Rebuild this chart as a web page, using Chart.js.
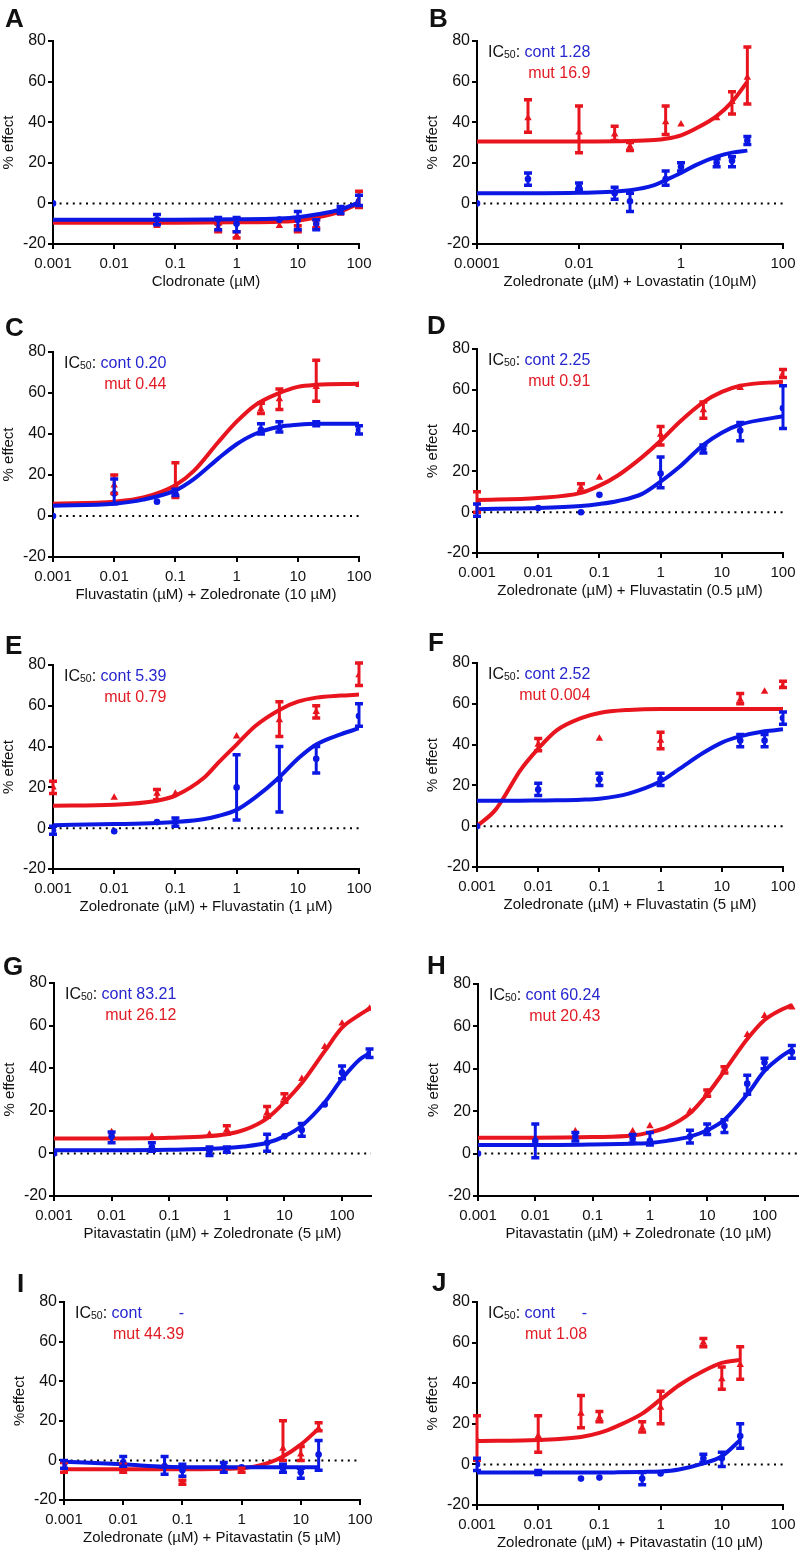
<!DOCTYPE html>
<html>
<head>
<meta charset="utf-8">
<script src="https://cdn.jsdelivr.net/npm/chart.js@4.4.1/dist/chart.umd.min.js"></script>
<style>
  body { margin:0; width:799px; height:1552px; position:relative; overflow:hidden; background:#fff;
         font-family:"Liberation Sans", Arial, sans-serif; color:#111; }
  canvas { position:absolute; }
  .letter { position:absolute; font-weight:bold; font-size:26px; line-height:26px; color:#111; }
  .ic { position:absolute; font-size:16px; line-height:19px; text-align:right; white-space:nowrap; }
  .ic sub { font-size:10.5px; vertical-align:baseline; position:relative; top:1px; }
  .cb { color:#2626cf; }
  .cr { color:#e11b24; }
</style>
</head>
<body>
<script>
// ---- data ----
const TICKS_STD = [0.001, 0.01, 0.1, 1, 10, 100]
const TICKS_B = [0.0001, 0.01, 1, 100]
const Y_TICKS = [-20, 0, 20, 40, 60, 80]

// A
const A_dose = [0.001, 0.05, 0.5, 1, 5, 10, 20, 50, 100]
const A_cont = [0, -8, -10, -10, -8, -8, -10, -3, 1]
const A_contBar = [null, [-10.5, -5.5], [-13, -7], [-14, -7], null, [-13, -4], [-13, -8], [-5, -1.5], [-1, 4]]
const A_mut = [null, -11, -12, -16, -11, -12, -11, -5, 2]
const A_mutBar = [null, null, [-14, -10], [-17, -14], null, [-14, -11], [-12, -8], null, [-2, 6]]
const A_fitDose = [0.001, 0.01, 0.1, 1, 5, 10, 20, 50, 100]
const A_fitCont = [-8, -8, -8, -7.8, -7.4, -6.8, -5.5, -3, 0.5]
const A_fitMut = [-9.5, -9.5, -9.5, -9.3, -9, -8.5, -7, -4, 0]

// B
const B_dose = [0.0001, 0.001, 0.01, 0.05, 0.1, 0.5, 1, 5, 10, 20]
const B_cont = [0, 12, 8, 5, 1, 12, 18, 20, 21, 31]
const B_contBar = [null, [9, 15], [7, 10], [2, 8], [-4, 5], [9, 16], [16, 20], [18, 22], [18, 23], [29, 33]]
const B_mut = [null, 42, 35, 34, 28, 40, 39, 42, 50, 62]
const B_mutBar = [null, [35, 51], [25, 48], [31, 38], [26, 30], [34, 48], null, null, [44, 55], [49, 77]]
const B_fitDose = [0.0001, 0.001, 0.01, 0.1, 0.3, 0.5, 1, 2, 5, 10, 20]
const B_fitCont = [5, 5, 5.2, 6.5, 9, 11.5, 15, 19, 23, 25, 26]
const B_fitMut = [30.5, 30.5, 30.5, 30.7, 31.2, 31.8, 33.5, 37, 43, 50, 60]

// C
const C_dose = [0.001, 0.01, 0.05, 0.1, 2.5, 5, 20, 100]
const C_cont = [0, 11, 7, 11, 42, 43, 45, 42]
const C_contBar = [null, [6, 18], null, [10, 13], [40, 45], [41, 46], [44, 46], [40, 44]]
const C_mut = [null, 15, null, 15, 52, 57, 63, 64]
const C_mutBar = [null, [11, 20], null, [9, 26], [50, 55], [52, 62], [56, 76], null]
const C_fitDose = [0.001, 0.01, 0.03, 0.1, 0.2, 0.5, 1, 2, 5, 10, 20, 100]
const C_fitCont = [5, 6, 8, 12.5, 18, 28, 35, 40, 43.5, 44.5, 45, 45]
const C_fitMut = [6, 7, 9, 15, 22, 36, 46, 54, 60, 63, 64, 64.5]

// D
const D_dose = [0.001, 0.01, 0.05, 0.1, 1, 5, 20, 100]
const D_cont = [1, 2, 0, 8.5, 19, 31, 40, 51]
const D_contBar = [[-2, 4], null, null, null, [12, 27], [29, 33], [35, 44], [41, 62]]
const D_mut = [5, null, 12, 17, 38, 50, 61, 68]
const D_mutBar = [[0, 10], null, [10, 14], null, [33, 42], [46, 54], null, [66, 70]]
const D_fitDose = [0.001, 0.01, 0.05, 0.1, 0.2, 0.5, 1, 2, 5, 10, 20, 100]
const D_fitCont = [1.5, 2, 3, 4, 5.5, 9, 15, 22, 33, 39, 43, 47]
const D_fitMut = [6, 7, 9.5, 13, 18, 27, 35, 44, 54, 59, 62, 64]

// E
const E_dose = [0.001, 0.01, 0.05, 0.1, 1, 5, 20, 100]
const E_cont = [-1, -1.5, 3, 3, 20, 24, 34, 55]
const E_contBar = [[-3, 1], null, null, [1, 5], [4, 36], [8, 40], [27, 40], [50, 61]]
const E_mut = [20, 15, 17, 17, 45, 53, 57, 75]
const E_mutBar = [[17, 23], null, [14, 19], null, null, [45, 62], [54, 60], [70, 81]]
const E_fitDose = [0.001, 0.01, 0.05, 0.1, 0.3, 0.5, 1, 2, 5, 10, 20, 50, 100]
const E_fitCont = [1.5, 2, 2.5, 3, 4.5, 6, 9, 15, 25, 34, 41, 46, 49]
const E_fitMut = [11, 11.5, 13.5, 16, 25, 32, 41, 50, 58, 62, 64, 65, 65.5]

// F
const F_dose = [0.001, 0.01, 0.1, 1, 20, 50, 100]
const F_cont = [0, 18, 23, 23, 42, 42, 53]
const F_contBar = [null, [15, 21], [20, 26], [20, 26], [39, 45], [39, 45], [50, 56]]
const F_mut = [0, 40, 43, 42, 62, 66, 69]
const F_mutBar = [null, [37, 43], null, [38, 46], [60, 65], null, [68, 71]]
const F_fitDose = [0.001, 0.002, 0.003, 0.005, 0.01, 0.02, 0.05, 0.1, 0.3, 1, 2, 5, 10, 20, 50, 100]
const F_fitCont = [12.5, 12.5, 12.5, 12.5, 12.6, 12.7, 13, 13.5, 16, 22, 28, 36, 41, 44, 46.5, 47.5]
const F_fitMut = [0, 8, 16, 27, 38, 47, 53, 55.5, 57, 57.5, 57.5, 57.5, 57.5, 57.5, 57.5, 57.5]

// G
const G_dose = [0.001, 0.01, 0.05, 0.5, 1, 5, 10, 20, 50, 100, 300]
const G_cont = [0, 8, 3, 1, 2, 5, 8, 11, 23, 38, 47]
const G_contBar = [null, [5, 10], [1, 5], [-1, 3], [0.5, 3], [1, 9], null, [8, 14], null, [35, 41], [45, 49]]
const G_mut = [0, 10, 8, 9, 11, 19, 26, 35, 50, 61, 68]
const G_mutBar = [null, null, null, null, [9, 13], [17, 22], [24, 28], null, null, null, null]
const G_fitDose = [0.001, 0.01, 0.1, 1, 2, 5, 10, 20, 50, 100, 200, 300]
const G_fitCont = [1.5, 1.5, 1.7, 2.5, 3.2, 5, 8, 13, 24, 35, 44, 47]
const G_fitMut = [7, 7, 7.3, 9, 11, 16.5, 24, 33, 48, 59, 65, 68]

// H
const H_dose = [0.001, 0.01, 0.05, 0.5, 1, 5, 10, 20, 50, 100, 300]
const H_cont = [0, 6, 8, 7, 6, 8, 11, 13, 33, 43, 48]
const H_contBar = [null, [-2, 14], [6, 10], [5, 9], [4, 10], [5, 11], [9, 14], [10, 16], [28, 37], [40, 45], [45, 51]]
const H_mut = [null, null, 10.5, 10.5, 13, 20, 29, 40, 56, 65, 69]
const H_mutBar = [null, null, null, null, null, null, [27, 30], [38, 41], null, null, null]
const H_fitDose = [0.001, 0.01, 0.1, 0.5, 1, 2, 5, 10, 20, 50, 100, 200, 300]
const H_fitCont = [4, 4, 4.3, 4.7, 5, 6, 8, 11, 16, 28, 39, 46, 49]
const H_fitMut = [7.5, 7.5, 7.8, 8.5, 10, 12.5, 19, 28, 39, 54, 63, 68, 70]

// I
const I_dose = [0.001, 0.01, 0.05, 0.1, 0.5, 1, 5, 10, 20]
const I_cont = [-2, -1, -3, -5, -3, -3.5, -4, -6, 3]
const I_contBar = [[-4, 0], [-3, 2], [-7, 2], [-8, -2], [-6, -1], null, [-6, -2], [-9, -4], [-5, 10]]
const I_mut = [-4, -4, -2, -11, -4, -5, 6, 3, 16]
const I_mutBar = [[-6, -1], [-6, -2], null, [-12, -10], null, [-6, -4], [0, 20], [0, 7], [15, 19]]
const I_fitDose = [0.001, 0.01, 0.05, 0.1, 1, 2, 3, 5, 10, 20]
const I_fitCont = [-0.7, -2, -3.2, -3.4, -3.5, -3.5, -3.5, -3.5, -3.5, -3.5]
const I_fitMut = [-4.5, -4.5, -4.5, -4.5, -4, -2.5, -1, 2, 8, 16]

// J
const J_dose = [0.001, 0.01, 0.05, 0.1, 0.5, 1, 5, 10, 20]
const J_cont = [0, -4, -7, -6.5, -7, -4.5, 3, 3, 14]
const J_contBar = [[-3, 3], [-5, -3], null, null, [-10, -4], null, [1, 5], [-1, 6], [8, 20]]
const J_mut = [12, 14, 25, 23, 18, 28, 60, 42, 49]
const J_mutBar = [[2, 24], [6, 24], [18, 34], [21, 26], [16, 21], [20, 36], [58, 62], [37, 48], [42, 58]]
const J_fitDose = [0.001, 0.01, 0.05, 0.1, 0.2, 0.5, 1, 2, 5, 10, 20]
const J_fitCont = [-4, -4, -4, -4, -3.9, -3.7, -3.5, -2.5, 0.5, 4, 12]
const J_fitMut = [11.5, 12, 13.5, 15.5, 19, 25, 32, 39, 46, 50, 51.5]

const X_TITLES = {
  A: 'Clodronate (µM)',
  B: 'Zoledronate (µM) + Lovastatin (10µM)',
  C: 'Fluvastatin (µM) + Zoledronate (10 µM)',
  D: 'Zoledronate (µM) + Fluvastatin (0.5 µM)',
  E: 'Zoledronate (µM) + Fluvastatin (1 µM)',
  F: 'Zoledronate (µM) + Fluvastatin (5 µM)',
  G: 'Pitavastatin (µM) + Zoledronate (5 µM)',
  H: 'Pitavastatin (µM) + Zoledronate (10 µM)',
  I: 'Zoledronate (µM) + Pitavastatin (5 µM)',
  J: 'Zoledronate (µM) + Pitavastatin (10 µM)'
}
const IC50_CONT = { B: '1.28', C: '0.20', D: '2.25', E: '5.39', F: '2.52', G: '83.21', H: '60.24', I: '-', J: '-' }
const IC50_MUT = { B: '16.9', C: '0.44', D: '0.91', E: '0.79', F: '0.004', G: '26.12', H: '20.43', I: '44.39', J: '1.08' }

// ---- layout (pixel boxes of each plot area) ----
const BOX = {
  A: { axL: 53,  axR: 359, axT: 41,   axB: 244,  lx: 5,   ly: 8 },
  B: { axL: 477, axR: 783, axT: 41,   axB: 244,  lx: 429, ly: 8 },
  C: { axL: 53,  axR: 359, axT: 352,  axB: 557,  lx: 5,   ly: 317 },
  D: { axL: 477, axR: 783, axT: 349,  axB: 553,  lx: 427, ly: 315 },
  E: { axL: 53,  axR: 359, axT: 665,  axB: 869,  lx: 5,   ly: 635 },
  F: { axL: 477, axR: 783, axT: 663,  axB: 867,  lx: 428, ly: 632 },
  G: { axL: 54,  axR: 371, axT: 983,  axB: 1196, lx: 3,   ly: 956 },
  H: { axL: 478, axR: 799, axT: 984,  axB: 1196, lx: 427, ly: 955 },
  I: { axL: 64,  axR: 360, axT: 1302, axB: 1500, lx: 17,  ly: 1273 },
  J: { axL: 477, axR: 783, axT: 1302, axB: 1505, lx: 432, ly: 1272 }
}
const X_RANGE = {
  A: [0.001, 100], B: [0.0001, 100], C: [0.001, 100], D: [0.001, 100], E: [0.001, 100],
  F: [0.001, 100], G: [0.001, 318], H: [0.001, 400], I: [0.001, 100], J: [0.001, 100]
}

const BLUE = '#0b18e4'
const RED = '#e8141e'
const FONT = '"Liberation Sans", Arial, sans-serif'
const YW = 53, XH = 50, PAD_T = 14, PAD_R = 24

Chart.defaults.font.family = FONT
Chart.defaults.color = '#111'

// error bars drawn through the chart scales
const errorBars = {
  id: 'errorBars',
  afterDatasetsDraw(chart) {
    const { ctx, scales: { x, y } } = chart
    const sets = chart.data.datasets.slice().reverse()
    ctx.save()
    ctx.beginPath()
    ctx.rect(chart.chartArea.left - 6, chart.chartArea.top - 6, chart.chartArea.width + 12, chart.chartArea.height + 12)
    ctx.clip()
    sets.forEach(ds => {
      if (!ds.withBars) return
      ctx.strokeStyle = ds.borderColor
      ctx.lineWidth = 3
      ctx.lineCap = 'butt'
      ds.data.forEach(p => {
        if (!p.bar) return
        const px = x.getPixelForValue(p.x)
        const lo = y.getPixelForValue(p.bar[0])
        const hi = y.getPixelForValue(p.bar[1])
        ctx.beginPath()
        ctx.moveTo(px, lo); ctx.lineTo(px, hi)
        ctx.stroke()
        ctx.lineWidth = 3.5
        ctx.beginPath()
        ctx.moveTo(px - 4, lo); ctx.lineTo(px + 4, lo)
        ctx.moveTo(px - 4, hi); ctx.lineTo(px + 4, hi)
        ctx.stroke()
        ctx.lineWidth = 3
      })
    })
    ctx.restore()
  }
}

function points(dose, vals, bars) {
  return dose.map((d, i) => ({ x: d, y: vals[i], bar: bars[i] })).filter(p => p.y != null)
}

function curve(dose, vals) {
  return dose.map((d, i) => ({ x: d, y: vals[i] }))
}

function addText(key, box) {
  const letter = document.createElement('div')
  letter.className = 'letter'
  letter.textContent = key
  letter.style.left = box.lx + 'px'
  letter.style.top = (box.ly - 3) + 'px'
  document.body.appendChild(letter)

  if (!IC50_CONT[key]) return
  const ic = document.createElement('div')
  ic.className = 'ic'
  ic.style.left = (box.axL + 11) + 'px'
  ic.style.top = (box.axT + 1) + 'px'
  let first
  if (IC50_CONT[key] === '-') {
    const gap = key === 'I' ? 37 : 27
    first = `IC<sub>50</sub>: <span class="cb">cont</span><span class="cb" style="margin-left:${gap}px">-</span>`
  } else {
    first = `IC<sub>50</sub>: <span class="cb">cont ${IC50_CONT[key]}</span>`
  }
  ic.innerHTML = `<div>${first}</div><div class="cr">mut ${IC50_MUT[key]}</div>`
  document.body.appendChild(ic)
}

function makePanel(key, d) {
  const box = BOX[key]
  const [xmin, xmax] = X_RANGE[key]
  const ticks = key === 'B' ? TICKS_B : TICKS_STD
  const W = box.axR - box.axL + YW + PAD_R
  const H = box.axB - box.axT + PAD_T + XH
  const canvas = document.createElement('canvas')
  canvas.width = W
  canvas.height = H
  canvas.style.left = (box.axL - YW) + 'px'
  canvas.style.top = (box.axT - PAD_T) + 'px'
  canvas.style.width = W + 'px'
  canvas.style.height = H + 'px'
  document.body.appendChild(canvas)

  const axisLine = { display: true, color: '#000', width: 2 }
  const tickGrid = { display: true, drawOnChartArea: false, drawTicks: true, tickLength: 5, color: '#000', lineWidth: 2 }

  new Chart(canvas.getContext('2d'), {
    data: {
      datasets: [
        { type: 'scatter', data: points(d.dose, d.cont, d.contBar), withBars: true,
          borderColor: BLUE, backgroundColor: BLUE, pointStyle: 'circle', pointRadius: 3.3, pointBorderWidth: 0 },
        { type: 'scatter', data: points(d.dose, d.mut, d.mutBar), withBars: true,
          borderColor: RED, backgroundColor: RED, pointStyle: 'triangle', pointRadius: 4.3, pointBorderWidth: 0 },
        { type: 'line', data: curve(d.fitDose, d.fitCont), borderColor: BLUE, borderWidth: 4,
          pointRadius: 0, cubicInterpolationMode: 'monotone', fill: false },
        { type: 'line', data: curve(d.fitDose, d.fitMut), borderColor: RED, borderWidth: 4,
          pointRadius: 0, cubicInterpolationMode: 'monotone', fill: false },
        { type: 'line', data: [{ x: xmin, y: 0 }, { x: xmax, y: 0 }], borderColor: '#000', borderWidth: 2,
          borderDash: [2, 4.6], pointRadius: 0, fill: false }
      ]
    },
    options: {
      responsive: false,
      animation: false,
      devicePixelRatio: 1,
      layout: { padding: { top: PAD_T, right: PAD_R, left: 0, bottom: 0 } },
      plugins: { legend: { display: false }, tooltip: { enabled: false } },
      scales: {
        x: {
          type: 'logarithmic', min: xmin, max: xmax,
          afterBuildTicks: s => { s.ticks = ticks.map(v => ({ value: v })) },
          afterFit: s => { s.height = XH },
          ticks: { autoSkip: false, maxRotation: 0, padding: 6, color: '#111',
                   font: { size: 15 }, callback: v => String(v) },
          grid: tickGrid,
          border: axisLine,
          title: { display: true, text: X_TITLES[key], color: '#111', font: { size: 15 },
                   padding: { top: 0, bottom: 3 } }
        },
        y: {
          min: -20, max: 80,
          afterBuildTicks: s => { s.ticks = Y_TICKS.map(v => ({ value: v })) },
          afterFit: s => { s.width = YW },
          ticks: { padding: 2, color: '#111', font: { size: 16 } },
          grid: tickGrid,
          border: axisLine,
          title: { display: true, text: key === 'I' ? '%effect' : '% effect', color: '#111',
                   font: { size: 15 }, padding: { top: 0, bottom: 0 } }
        }
      }
    },
    plugins: [errorBars]
  })
  addText(key, box)
}

makePanel('A', { dose: A_dose, cont: A_cont, contBar: A_contBar, mut: A_mut, mutBar: A_mutBar, fitDose: A_fitDose, fitCont: A_fitCont, fitMut: A_fitMut })
makePanel('B', { dose: B_dose, cont: B_cont, contBar: B_contBar, mut: B_mut, mutBar: B_mutBar, fitDose: B_fitDose, fitCont: B_fitCont, fitMut: B_fitMut })
makePanel('C', { dose: C_dose, cont: C_cont, contBar: C_contBar, mut: C_mut, mutBar: C_mutBar, fitDose: C_fitDose, fitCont: C_fitCont, fitMut: C_fitMut })
makePanel('D', { dose: D_dose, cont: D_cont, contBar: D_contBar, mut: D_mut, mutBar: D_mutBar, fitDose: D_fitDose, fitCont: D_fitCont, fitMut: D_fitMut })
makePanel('E', { dose: E_dose, cont: E_cont, contBar: E_contBar, mut: E_mut, mutBar: E_mutBar, fitDose: E_fitDose, fitCont: E_fitCont, fitMut: E_fitMut })
makePanel('F', { dose: F_dose, cont: F_cont, contBar: F_contBar, mut: F_mut, mutBar: F_mutBar, fitDose: F_fitDose, fitCont: F_fitCont, fitMut: F_fitMut })
makePanel('G', { dose: G_dose, cont: G_cont, contBar: G_contBar, mut: G_mut, mutBar: G_mutBar, fitDose: G_fitDose, fitCont: G_fitCont, fitMut: G_fitMut })
makePanel('H', { dose: H_dose, cont: H_cont, contBar: H_contBar, mut: H_mut, mutBar: H_mutBar, fitDose: H_fitDose, fitCont: H_fitCont, fitMut: H_fitMut })
makePanel('I', { dose: I_dose, cont: I_cont, contBar: I_contBar, mut: I_mut, mutBar: I_mutBar, fitDose: I_fitDose, fitCont: I_fitCont, fitMut: I_fitMut })
makePanel('J', { dose: J_dose, cont: J_cont, contBar: J_contBar, mut: J_mut, mutBar: J_mutBar, fitDose: J_fitDose, fitCont: J_fitCont, fitMut: J_fitMut })
</script>
</body>
</html>
